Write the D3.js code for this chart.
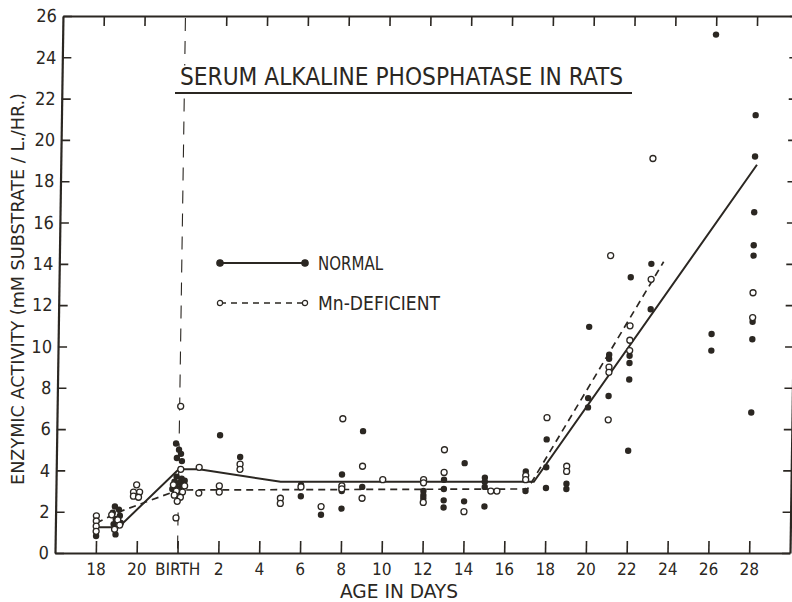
<!DOCTYPE html>
<html>
<head>
<meta charset="utf-8">
<script src="https://d3js.org/d3.v7.min.js"></script>
<style>
  body { margin: 0; background: #fff; }
  text { font-family: "Liberation Sans Narrow", "DejaVu Sans Condensed", "Arial Narrow", sans-serif; fill: #2b2722; }
</style>
</head>
<body>
<script>
// ---- data (day index: fetal 18 = -4, fetal 20 = -2, birth = 0, then postnatal days) ----
var tickDays   = [-4, -2, 0, 2, 4, 6, 8, 10, 12, 14, 16, 18, 20, 22, 24, 26, 28];
var tickLabels = ["18", "20", "BIRTH", "2", "4", "6", "8", "10", "12", "14", "16", "18", "20", "22", "24", "26", "28"];
var valueTicks = d3.range(0, 27, 2);

// individual animals, normal diet (filled dots)
var normalPts = [
  [-4, 0.82],
  [-3.1, 2.25], [-2.9, 2.1], [-3.2, 1.95], [-2.85, 1.8], [-3.05, 1.65], [-2.8, 1.45], [-3.15, 1.4], [-3.05, 0.9],
  [-0.15, 5.3], [0, 5.0], [0.1, 4.8], [-0.1, 4.6], [0.15, 4.45], [-0.1, 3.7], [0.15, 3.6], [-0.2, 3.45],
  [0.05, 3.4], [0.25, 3.3], [-0.15, 3.2], [0.1, 3.15], [0.3, 3.5], [-0.3, 3.1],
  [2, 5.7], [3, 4.65], [6, 3.3], [6, 2.75], [7, 1.85], [8, 3.8], [8, 3.0], [8, 2.15], [9, 5.9], [9, 3.2],
  [12, 3.0], [12, 2.8], [12, 2.65], [13, 3.55], [13, 3.1], [13, 2.55], [13, 2.2], [14, 4.35], [14, 2.5],
  [15, 3.65], [15, 3.45], [15, 3.2], [15, 2.25], [17, 3.95], [17, 3.0],
  [18, 5.5], [18, 4.15], [18, 3.15], [19, 3.35], [19, 3.1],
  [20, 10.95], [20, 7.5], [20, 7.05], [21, 9.6], [21, 9.4], [21, 7.6],
  [22, 13.35], [22, 9.55], [22, 9.2], [22, 8.4], [22, 4.95], [23, 14.0], [23, 11.8],
  [26, 25.1], [26, 10.6], [26, 9.8],
  [28, 21.2], [28, 19.2], [28, 16.5], [28, 14.9], [28, 14.4], [28, 11.2], [28, 10.35], [28, 6.8]
];

// individual animals, Mn-deficient diet (open circles)
var mnPts = [
  [-4, 1.8], [-4, 1.55], [-4, 1.3], [-4, 1.05],
  [-3.25, 1.85], [-2.95, 1.6], [-2.85, 1.35], [-3.1, 1.15],
  [-2.05, 3.3], [-2.2, 2.95], [-1.9, 2.95], [-2.2, 2.75], [-1.95, 2.7],
  [0.05, 7.1], [0.1, 4.05], [-0.25, 3.3], [0.3, 3.25], [-0.1, 3.0], [0.2, 2.95], [-0.2, 2.8], [0.1, 2.7],
  [-0.05, 2.5], [-0.1, 1.7],
  [1, 4.15], [1, 2.9], [2, 3.25], [2, 2.95], [3, 4.3], [3, 4.05], [5, 2.65], [5, 2.4], [6, 3.2], [7, 2.25],
  [8, 6.5], [8, 3.25], [8, 3.1], [9, 4.2], [9, 2.65], [10, 3.55],
  [12, 3.55], [12, 3.4], [12, 2.45], [13, 5.0], [13, 3.9], [14, 2.0], [15.3, 3.0], [15.6, 3.0],
  [17, 3.75], [17, 3.55], [18, 6.55], [19, 4.2], [19, 3.95],
  [21, 14.4], [21, 9.0], [21, 8.75], [21, 6.45], [22, 11.0], [22, 10.3], [22, 9.8],
  [23, 19.1], [23, 13.25], [28, 12.6], [28, 11.4]
];

// fitted mean curves
var normalMean = [[-4, 1.25], [-2.9, 1.25], [0, 4.05], [1, 4.05], [5, 3.45], [17.4, 3.45], [28.1, 18.8]];
var mnMean     = [[-4, 1.45], [-3, 1.95], [0, 3.05], [17.1, 3.1], [23.6, 14.1]];

var seriesNames = ["NORMAL", "Mn-DEFICIENT"];

// ---- setup ----
var W = 792, H = 602;
var ink = "#2b2722";

var svg = d3.select("body").append("svg")
    .attr("width", W)
    .attr("height", H);

var x = d3.scaleLinear().domain([-6, 30]).range([55, 790]);
var y = d3.scaleLinear().domain([0, 26]).range([553, 16]);

// the original figure is a little skewed, top leans right
var plot = svg.append("g")
    .attr("transform", "translate(0,553) skewX(-0.85) translate(0,-553)");

// axes
var axBottom = plot.append("g")
    .attr("transform", "translate(0," + y(0) + ")")
    .call(d3.axisBottom(x).tickValues(tickDays)
        .tickFormat(function(d, i) { return tickLabels[i]; })
        .tickSizeInner(-12).tickSizeOuter(0).tickPadding(10));

var axTop = plot.append("g")
    .attr("transform", "translate(0," + y(26) + ")")
    .call(d3.axisTop(x).tickValues(tickDays).tickFormat("")
        .tickSizeInner(-10).tickSizeOuter(0));

var axLeft = plot.append("g")
    .attr("transform", "translate(" + x(-6) + ",0)")
    .call(d3.axisLeft(y).tickValues(valueTicks)
        .tickSizeInner(-9).tickSizeOuter(0).tickPadding(6));

var axRight = plot.append("g")
    .attr("transform", "translate(" + x(30) + ",0)")
    .call(d3.axisRight(y).tickValues(valueTicks).tickFormat("")
        .tickSizeInner(-8).tickSizeOuter(0));

[axBottom, axTop, axLeft, axRight].forEach(function(g) {
    g.attr("font-family", null).attr("font-size", null);
    g.select(".domain").attr("stroke", ink).attr("stroke-width", 2.2);
    g.selectAll(".tick line").attr("stroke", ink).attr("stroke-width", 1.6);
    g.selectAll(".tick text").attr("fill", ink).style("font-size", "17px");
});
axLeft.selectAll(".tick text").style("font-size", "18px");
axTop.selectAll(".tick").filter(function(d) { return d === 0; }).remove();

// birth marker
var birthSegs = [[25.9, 23.6], [22.0, 0.2]];
plot.selectAll("line.birth")
    .data(birthSegs)
    .join("line")
        .attr("class", "birth")
        .attr("x1", x(0)).attr("x2", x(0))
        .attr("y1", function(d) { return y(d[0]); })
        .attr("y2", function(d) { return y(d[1]); })
        .attr("stroke", ink)
        .attr("stroke-width", 1.1)
        .attr("stroke-dasharray", "13,10");

// mean lines
var line = d3.line()
    .x(function(d) { return x(d[0]); })
    .y(function(d) { return y(d[1]); });

plot.append("path")
    .datum(normalMean)
    .attr("d", line)
    .attr("fill", "none")
    .attr("stroke", ink)
    .attr("stroke-width", 2);

plot.append("path")
    .datum(mnMean)
    .attr("d", line)
    .attr("fill", "none")
    .attr("stroke", ink)
    .attr("stroke-width", 1.7)
    .attr("stroke-dasharray", "7,5");

// points
plot.selectAll("circle.normal")
    .data(normalPts)
    .join("circle")
        .attr("class", "normal")
        .attr("cx", function(d) { return x(d[0]); })
        .attr("cy", function(d) { return y(d[1]); })
        .attr("r", 3.2)
        .attr("fill", ink);

plot.selectAll("circle.mn")
    .data(mnPts)
    .join("circle")
        .attr("class", "mn")
        .attr("cx", function(d) { return x(d[0]); })
        .attr("cy", function(d) { return y(d[1]); })
        .attr("r", 3)
        .attr("fill", "#fff")
        .attr("stroke", ink)
        .attr("stroke-width", 1.3);

// title
svg.append("text")
    .text("SERUM ALKALINE PHOSPHATASE IN RATS")
    .attr("x", 180)
    .attr("y", 85)
    .attr("textLength", 443)
    .attr("lengthAdjust", "spacingAndGlyphs")
    .style("font-size", "25px");
svg.append("line")
    .attr("x1", 175).attr("x2", 632)
    .attr("y1", 93).attr("y2", 93)
    .attr("stroke", ink)
    .attr("stroke-width", 2);

// legend
var legend = svg.append("g");
var legY = [263, 303];
seriesNames.forEach(function(name, i) {
    var g = legend.append("g").attr("transform", "translate(0," + legY[i] + ")");
    g.append("line")
        .attr("x1", 220).attr("x2", 305)
        .attr("stroke", ink)
        .attr("stroke-width", i === 0 ? 2 : 1.5)
        .attr("stroke-dasharray", i === 0 ? null : "6,5");
    g.selectAll("circle")
        .data([220, 305])
        .join("circle")
            .attr("cx", function(d) { return d; })
            .attr("r", i === 0 ? 3.2 : 2.6)
            .attr("fill", i === 0 ? ink : "#fff")
            .attr("stroke", ink)
            .attr("stroke-width", 1.2);
    g.append("text")
        .text(name)
        .attr("x", 318)
        .attr("y", 7)
        .attr("textLength", i === 0 ? 65 : 122)
        .attr("lengthAdjust", "spacingAndGlyphs")
        .style("font-size", "19px");
});

// axis titles
svg.append("text")
    .text("AGE IN DAYS")
    .attr("x", 340)
    .attr("y", 598)
    .attr("textLength", 118)
    .attr("lengthAdjust", "spacingAndGlyphs")
    .style("font-size", "19px");

svg.append("text")
    .text("ENZYMIC ACTIVITY (mM SUBSTRATE / L./HR.)")
    .attr("transform", "translate(24,289) rotate(-90)")
    .attr("text-anchor", "middle")
    .attr("textLength", 392)
    .attr("lengthAdjust", "spacingAndGlyphs")
    .style("font-size", "17px");
</script>
</body>
</html>
